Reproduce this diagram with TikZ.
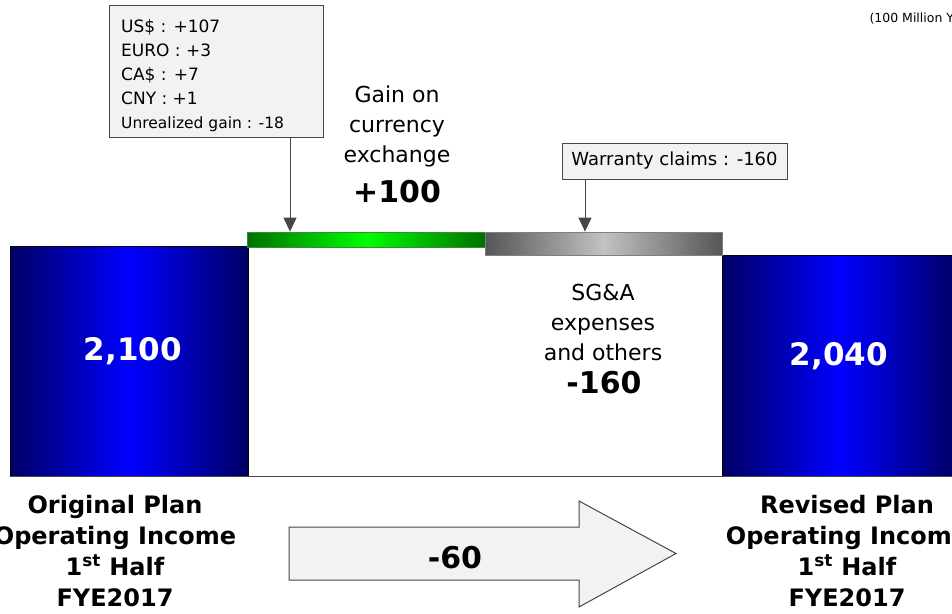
\documentclass[tikz,border=0pt]{standalone}
\usepackage{fontspec}
\setmainfont{DejaVu Sans}
\usetikzlibrary{arrows.meta}
\definecolor{navybar}{RGB}{0,0,100}
\definecolor{brightbar}{RGB}{0,0,255}
\definecolor{darkgain}{RGB}{0,112,0}
\definecolor{brightgain}{RGB}{0,255,0}
\definecolor{darkcost}{RGB}{85,85,85}
\definecolor{lightcost}{RGB}{194,194,194}
\definecolor{boxfill}{RGB}{242,242,242}
\definecolor{boxline}{RGB}{70,70,70}
\newcommand{\fsize}[2]{\fontsize{#1}{#2}\selectfont}

\tikzset{
	incomebar/.style={draw=black, line width=.8pt, inner sep=0pt,
		left color=navybar, right color=navybar, middle color=brightbar},
	gainstrip/.style={draw=darkgain!80, line width=.8pt, inner sep=0pt,
		left color=darkgain, right color=darkgain, middle color=brightgain},
	coststrip/.style={draw=gray, line width=.8pt, inner sep=0pt,
		left color=darkcost, right color=darkcost, middle color=lightcost},
	notebox/.style={draw=boxline, fill=boxfill, line width=1pt},
	pinarrow/.style={draw=boxline, line width=1pt, -{Triangle[length=14pt,width=13pt]}},
	barvalue/.style={text=white, font=\bfseries\fsize{31}{36}, anchor=base},
	planlabel/.style={font=\bfseries\fsize{24}{31}, align=center},
	steptext/.style={font=\fsize{22}{30}, align=center, anchor=base},
	stepvalue/.style={font=\bfseries\fsize{30}{34}, anchor=base}
}

\begin{document}
\begin{tikzpicture}[x=1pt, y=-1pt]
	\useasboundingbox (0,0) rectangle (952,613);
	% bars
	\node[incomebar, minimum width=238pt, minimum height=230pt] (origbar) at (129,361) {};
	\node[incomebar, minimum width=236pt, minimum height=221pt] (revbar) at (840,365.5) {};
	\draw[boxline, line width=1.2pt] (origbar.south west) -- (revbar.south west) -- (revbar.south east);
	\node[gainstrip, minimum width=238pt, minimum height=15pt] (gainbar) at (366,239.5) {};
	\node[coststrip, minimum width=237pt, minimum height=23pt] (costbar) at (603.5,243.5) {};
	\node[barvalue] (origval) at (133,360) {2,100};
	\node[barvalue] (revval) at (839,365) {2,040};

	% notes and pins
	\node[notebox, minimum width=214pt, minimum height=132pt] (fxbox) at (216,71) {};
	\node[anchor=base west, inner sep=0pt, align=left, font=\fsize{17}{24}] (fxtxt) at (121,128)
		{US\$ : +107\\EURO : +3\\CA\$ : +7\\CNY : +1\\{\fsize{15.5}{24}Unrealized gain : -18}};
	\node[notebox, minimum width=225pt, minimum height=36pt, font=\fsize{18}{22}] (warbox) at (674.5,161)
		{Warranty claims : -160};
	\coordinate (fxpin) at (290,0);
	\coordinate (warpin) at (585,0);
	\draw[pinarrow] (fxbox.south -| fxpin) -- (gainbar.north -| fxpin);
	\draw[pinarrow] (warbox.south -| warpin) -- (costbar.north -| warpin);

	% step labels
	\node[steptext] (gaintxt) at (397,162) {Gain on\\currency\\exchange};
	\node[stepvalue] (gainval) at (397,202) {+100};
	\node[steptext] (costtxt) at (603,360) {SG\&A\\expenses\\and others};
	\node[stepvalue] (costval) at (604,393) {-160};

	\node[anchor=base west, font=\fsize{12.5}{15}] (unit) at (866,22) {(100 Million Yen)};

	% bottom
	\node[planlabel] (origlbl) at (115,551) {Original Plan\\Operating Income\\1\textsuperscript{st} Half\\FYE2017};
	\node[planlabel] (revlbl) at (847,551) {Revised Plan\\Operating Income\\1\textsuperscript{st} Half\\FYE2017};
	\draw[boxline, fill=boxfill, line width=1pt] (289,527) -- (579,527) -- (579,501) -- (676,553.5)
		-- (579,607) -- (579,580) -- (289,580) -- cycle;
	\node[stepvalue] (diffval) at (455,568) {-60};
\end{tikzpicture}
\end{document}
